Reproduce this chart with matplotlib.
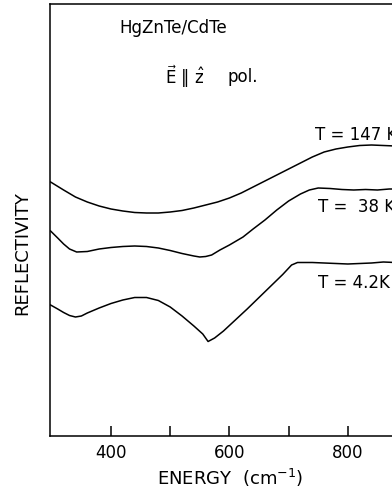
import matplotlib
matplotlib.use("Agg")
import matplotlib.pyplot as plt
from matplotlib.ticker import FixedLocator, NullFormatter

# energy axis (cm^-1) and reflectivity (arbitrary units)
e_147 = [298, 320, 340, 360, 380, 400, 420, 440, 460, 480, 500, 520, 540, 560,
         580, 600, 620, 640, 660, 680, 700, 720, 740, 760, 780, 800, 820, 840,
         860, 880, 905]
r_147 = [254, 246, 239, 234, 230, 227, 225, 223.5, 223, 223, 224, 225.5, 228,
         231, 234, 238, 243, 249, 255, 261, 267, 273, 279, 284, 287, 289,
         290.5, 291, 290.5, 290, 289]

e_38 = [298, 310, 320, 330, 342, 360, 380, 400, 420, 440, 460, 480, 500, 520,
        540, 550, 560, 570, 584, 600, 623, 640, 660, 680, 700, 720, 735, 750,
        770, 790, 810, 830, 850, 870, 905]
r_38 = [205, 198, 192, 187, 184, 184.5, 187, 188.5, 189.5, 190, 189.5, 188,
        185.5, 182.5, 180, 179, 179.5, 181, 186, 191, 199, 207, 216, 226, 235,
        242, 246, 248, 247.5, 246.5, 246, 246.5, 246, 247, 247]

e_4 = [298, 310, 320, 330, 340, 350, 360, 380, 400, 420, 440, 460, 480, 500,
       520, 540, 555, 564, 575, 590, 610, 630, 650, 670, 690, 705, 715, 740,
       760, 780, 800, 820, 840, 860, 880, 905]
r_4 = [131, 127, 123.5, 120.5, 119, 120, 123, 128, 132.5, 136, 138.5, 138.5,
       135.5, 129, 120, 110, 102, 94.5, 98, 105, 116, 127, 138.5, 150, 161.5,
       171, 173.5, 173.5, 173, 172.5, 172, 172.5, 173, 174, 173.5, 173.5]

labels = ["T = 147 K", "T =  38 K", "T = 4.2K"]

plt.rcParams['font.family'] = ['DejaVu Sans']

fig = plt.figure(figsize=(3.92, 4.90), dpi=100)
ax = fig.add_axes([50 / 392, 54 / 490, 360 / 392, 432 / 490])

for e, r in [(e_147, r_147), (e_38, r_38), (e_4, r_4)]:
    ax.plot(e, r, color='black', lw=1.1)

ax.set_xlim(297, 905)
ax.set_ylim(0, 432)

# curve labels
ax.text(744, 301, labels[0], fontsize=12, va='center', ha='left')
ax.text(749, 229, labels[1], fontsize=12, va='center', ha='left')
ax.text(749, 153, labels[2], fontsize=12, va='center', ha='left')

ax.text(415, 408, "HgZnTe/CdTe", fontsize=12, va='center', ha='left')
ax.text(491, 359, r'$\vec{\mathrm{E}}\ \Vert\ \hat{\mathrm{z}}$', fontsize=12,
        va='center', ha='left')
ax.text(597, 359, "pol.", fontsize=12, va='center', ha='left')

ax.xaxis.set_major_locator(FixedLocator([400, 600, 800]))
ax.xaxis.set_minor_locator(FixedLocator([500, 700]))
ax.xaxis.set_minor_formatter(NullFormatter())
ax.tick_params(axis='x', which='both', direction='in', length=7, width=1.1,
               labelsize=12, pad=6)
ax.set_yticks([])

for s in ax.spines.values():
    s.set_linewidth(1.1)

ax.set_xlabel("ENERGY  (cm$^{-1}$)", fontsize=13, labelpad=3)
fig.text(22 / 392, 1 - 253 / 490, "REFLECTIVITY", fontsize=13,
         rotation=90, va='center', ha='center')

fig.savefig("out.png", dpi=100)
